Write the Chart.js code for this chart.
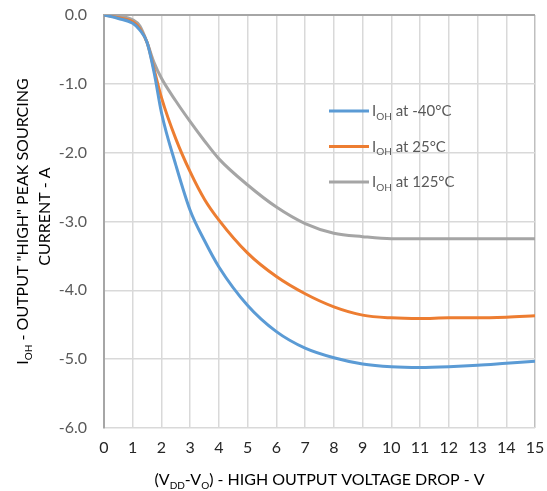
<!DOCTYPE html>
<html>
<head>
<meta charset="utf-8">
<script src="https://cdn.jsdelivr.net/npm/chart.js@4"></script>
<style>
  body { margin: 0; background: #fff; }
  #wrap { width: 547px; height: 491px; }
</style>
</head>
<body>
<div id="wrap"><canvas id="myChart" width="547" height="491"></canvas></div>
<script>
// drop voltage (V) sampled along each curve
const dropVolts = [0, 0.5, 1, 1.25, 1.5, 1.75, 2, 2.5, 3, 3.5, 4, 5, 6, 7, 8, 9, 10, 11, 12, 13, 14, 15];
const iohMinus40 = [0, -0.05, -0.12, -0.22, -0.4, -0.85, -1.42, -2.18, -2.84, -3.28, -3.66, -4.22, -4.6, -4.84, -4.98, -5.07, -5.11, -5.12, -5.11, -5.09, -5.06, -5.03];
const ioh25 = [0, -0.04, -0.1, -0.2, -0.4, -0.8, -1.2, -1.8, -2.28, -2.68, -2.98, -3.46, -3.8, -4.05, -4.24, -4.36, -4.4, -4.41, -4.4, -4.4, -4.39, -4.37];
const ioh125 = [0, -0.02, -0.07, -0.16, -0.4, -0.7, -0.92, -1.25, -1.55, -1.83, -2.09, -2.47, -2.79, -3.03, -3.17, -3.22, -3.25, -3.25, -3.25, -3.25, -3.25, -3.25];
const seriesTemps = ['-40°C', '25°C', '125°C'];
const seriesColors = ['#5B9BD5', '#ED7D31', '#A5A5A5'];

const FONT = 'Lato, "Open Sans", sans-serif';

function toPoints(values) {
    return values.map((v, i) => ({ x: dropVolts[i], y: v }));
}

// draws text made of parts, some of them subscript
function drawRich(ctx, parts, x, y, size, color) {
    const subSize = Math.round(size * 0.65);
    let total = 0;
    parts.forEach(p => {
        ctx.font = (p.sub ? subSize : size) + 'px ' + FONT;
        p.w = ctx.measureText(p.t).width;
        total += p.w;
    });
    let cx = x - total / 2;
    ctx.fillStyle = color;
    ctx.textBaseline = 'alphabetic';
    ctx.textAlign = 'left';
    parts.forEach(p => {
        ctx.font = (p.sub ? subSize : size) + 'px ' + FONT;
        ctx.fillText(p.t, cx, p.sub ? y + size * 0.25 : y);
        cx += p.w;
    });
    return total;
}

const titlesAndLegend = {
    id: 'titlesAndLegend',
    afterDraw(chart) {
        const ctx = chart.ctx;
        const area = chart.chartArea;
        const midX = (area.left + area.right) / 2;
        const midY = (area.top + area.bottom) / 2;
        ctx.save();

        // x axis title
        drawRich(ctx, [
            { t: '(V' }, { t: 'DD', sub: true }, { t: '-V' }, { t: 'O', sub: true },
            { t: ') - HIGH OUTPUT VOLTAGE DROP - V' }
        ], midX, 485, 16, '#000');

        // y axis title, two lines
        ctx.save();
        ctx.translate(28, midY);
        ctx.rotate(-Math.PI / 2);
        drawRich(ctx, [{ t: 'I' }, { t: 'OH', sub: true }, { t: ' - OUTPUT "HIGH" PEAK SOURCING' }], 0, 0, 16, '#000');
        drawRich(ctx, [{ t: 'CURRENT - A' }], 5, 22, 16, '#000');
        ctx.restore();

        // legend inside the plot
        const lx = 329, ly = 111;
        seriesTemps.forEach((t, i) => {
            const y = ly + i * 35.5;
            ctx.strokeStyle = seriesColors[i];
            ctx.lineWidth = 3;
            ctx.beginPath();
            ctx.moveTo(lx, y);
            ctx.lineTo(lx + 40, y);
            ctx.stroke();
            const parts = [{ t: 'I' }, { t: 'OH', sub: true }, { t: ' at ' + t }];
            let w = 0;
            parts.forEach(p => {
                ctx.font = (p.sub ? 10 : 15) + 'px ' + FONT;
                w += ctx.measureText(p.t).width;
            });
            drawRich(ctx, parts, lx + 43 + w / 2, y + 5, 15, '#595959');
        });

        ctx.restore();
    }
};

const ctx = document.getElementById('myChart').getContext('2d');

new Chart(ctx, {
    type: 'line',
    data: {
        datasets: [iohMinus40, ioh25, ioh125].map((vals, i) => ({
            label: 'IOH at ' + seriesTemps[i],
            data: toPoints(vals),
            borderColor: seriesColors[i],
            backgroundColor: seriesColors[i],
            borderWidth: 3,
            pointRadius: 0,
            cubicInterpolationMode: 'monotone',
            fill: false
        }))
    },
    options: {
        responsive: false,
        animation: false,
        layout: { padding: { top: 15, right: 12, left: 0, bottom: 0 } },
        plugins: {
            legend: { display: false },
            tooltip: { enabled: false }
        },
        scales: {
            x: {
                type: 'linear',
                min: 0,
                max: 15,
                afterFit: s => {
                    s.height = 63;
                    s.paddingLeft = 0;
                    s.paddingRight = 0;
                },
                ticks: {
                    stepSize: 1,
                    padding: 10,
                    color: '#262626',
                    font: { family: FONT, size: 16 }
                },
                grid: {
                    drawTicks: false,
                    color: ctx => ctx.tick && ctx.tick.value === 15 ? '#BFBFBF' : '#D9D9D9',
                    lineWidth: 1.5
                },
                border: { display: false }
            },
            y: {
                min: -6,
                max: 0,
                afterFit: s => {
                    s.width = 104;
                    s.paddingTop = 0;
                    s.paddingBottom = 0;
                },
                ticks: {
                    stepSize: 1,
                    padding: 17,
                    color: '#595959',
                    font: { family: FONT, size: 16 },
                    callback: v => v.toFixed(1)
                },
                grid: {
                    drawTicks: false,
                    color: ctx => ctx.tick && ctx.tick.value === 0 ? '#A6A6A6' : '#D9D9D9',
                    lineWidth: ctx => ctx.tick && ctx.tick.value === 0 ? 2 : 1.5
                },
                border: { color: '#A6A6A6', width: 2 }
            }
        }
    },
    plugins: [titlesAndLegend]
});
</script>
</body>
</html>
